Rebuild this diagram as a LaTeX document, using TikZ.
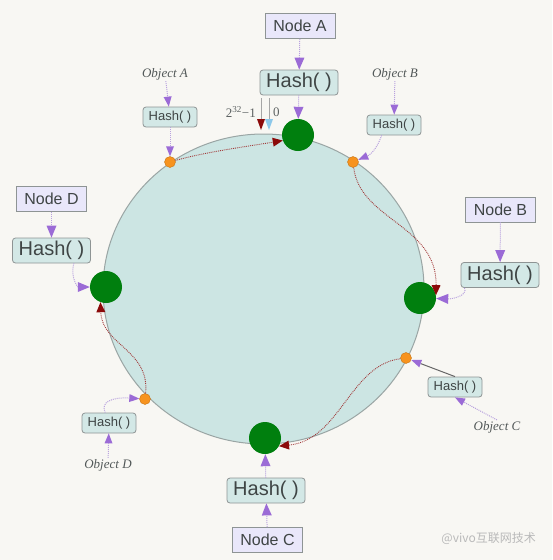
\documentclass[tikz,border=0pt]{standalone}
\usepackage{fontspec}
\setmainfont{Liberation Sans}
\newfontfamily\objfont{Liberation Serif}
\newfontfamily\cjkfont{Noto Sans CJK SC}
\usetikzlibrary{arrows.meta}
\definecolor{bgc}{HTML}{F8F7F3}
\definecolor{ringfill}{HTML}{CCE5E3}
\definecolor{ringdraw}{HTML}{9AA5A4}
\definecolor{nodefill}{HTML}{E9E7FA}
\definecolor{hashfill}{HTML}{D3E8E6}
\definecolor{boxdraw}{HTML}{8E9494}
\definecolor{txt}{HTML}{3F4545}
\definecolor{purp}{HTML}{9B6BD6}
\definecolor{purpline}{HTML}{B9A2DE}
\definecolor{dred}{HTML}{8B0A0A}
\definecolor{gnode}{HTML}{007F0E}
\definecolor{orng}{HTML}{F7931E}
\definecolor{lblue}{HTML}{8CC8EA}
\tikzset{
  nodebox/.style={draw=boxdraw, fill=nodefill, line width=0.8pt, text=txt, font=\fontsize{16}{18}\selectfont, minimum width=70pt, minimum height=25pt, inner sep=0pt},
  hashbig/.style={draw=boxdraw, fill=hashfill, line width=0.8pt, rounded corners=3pt, text=txt, font=\fontsize{20}{22}\selectfont, minimum width=78pt, minimum height=25pt, inner sep=0pt},
  hashsmall/.style={draw=boxdraw, fill=hashfill, line width=0.8pt, rounded corners=3pt, text=txt, font=\fontsize{13}{15}\selectfont, minimum width=54pt, minimum height=20pt, inner sep=0pt},
  objlabel/.style={text=txt!90, font=\objfont\itshape\fontsize{13}{15}\selectfont, inner sep=1pt},
  gpoint/.style={circle, fill=gnode, minimum size=32pt, inner sep=0pt},
  opoint/.style={circle, fill=orng, draw=orng!80!black, line width=0.4pt, minimum size=11pt, inner sep=0pt},
  purparrow/.style={draw=purpline, line width=1pt, densely dotted, -{Triangle[length=12pt, width=10pt, fill=purp, color=purp, line width=0pt]}},
  purpsmall/.style={draw=purpline, line width=1pt, densely dotted, -{Triangle[length=10pt, width=8pt, fill=purp, color=purp, line width=0pt]}},
  purpsolid/.style={draw=gray!80!black, line width=1pt, -{Triangle[length=10pt, width=8pt, fill=purp, color=purp, line width=0pt]}},
  redarrow/.style={draw=dred!80, line width=0.9pt, densely dotted, -{Triangle[length=10pt, width=9pt, fill=dred, color=dred, line width=0pt]}},
  markline/.style={draw=gray!70, line width=0.7pt},
}
\begin{document}
\begin{tikzpicture}[x=1pt, y=-1pt]
\useasboundingbox (0,0) rectangle (552,560);
\fill[bgc] (0,0) rectangle (552,560);

% ring
\draw[fill=ringfill, draw=ringdraw, line width=1pt] (263.5,289) ellipse [x radius=160.5, y radius=155];

% position markers 2^32-1 and 0
\coordinate (m1s) at (261,98);
\coordinate (m1e) at (261,130);
\coordinate (m0s) at (269,98);
\coordinate (m0e) at (269,130);
\draw[markline, -{Triangle[length=11pt, width=8pt, fill=dred, color=dred, line width=0pt]}] (m1s) -- (m1e);
\draw[markline, -{Triangle[length=11pt, width=8pt, fill=lblue, color=lblue, line width=0pt]}] (m0s) -- (m0e);
\node[anchor=east, text=txt!85, font=\objfont\fontsize{13}{15}\selectfont, inner sep=0pt] (lbl32) at (256,112) {2\textsuperscript{32}−1};
\node[anchor=west, text=txt!85, font=\objfont\fontsize{13}{15}\selectfont, inner sep=0pt] (lbl0) at (273,112) {0};

% ring points
\node[gpoint] (GA) at (298,135) {};
\node[gpoint] (GB) at (420,298) {};
\node[gpoint] (GC) at (265,438) {};
\node[gpoint] (GD) at (106,287) {};
\node[opoint] (OA) at (170,162) {};
\node[opoint] (OB) at (353,162) {};
\node[opoint] (OC) at (406,358) {};
\node[opoint] (OD) at (145,399) {};

% server nodes and hash boxes
\node[nodebox] (NA) at (300,26) {Node A};
\node[hashbig] (HA) at (299,82.5) {Hash( )};
\node[nodebox] (NB) at (500.5,209.5) {Node B};
\node[hashbig] (HB) at (500,275) {Hash( )};
\node[nodebox] (NC) at (267.5,540) {Node C};
\node[hashbig] (HC) at (266,490.5) {Hash( )};
\node[nodebox] (ND) at (51.5,199) {Node D};
\node[hashbig] (HD) at (51.5,250.5) {Hash( )};

% objects
\node[objlabel] (ObjA) at (165,74) {Object A};
\node[hashsmall] (hA) at (170,117) {Hash( )};
\node[objlabel] (ObjB) at (395,74) {Object B};
\node[hashsmall] (hB) at (394,125) {Hash( )};
\node[hashsmall] (hC) at (455,387) {Hash( )};
\node[objlabel] (ObjC) at (497,427) {Object C};
\node[hashsmall] (hD) at (109,423) {Hash( )};
\node[objlabel] (ObjD) at (108,465) {Object D};

% node -> hash -> ring
\draw[purparrow] (NA) -- (HA);
\draw[purparrow] (HA) -- (GA);
\draw[purparrow] (NB) -- (HB);
\draw[purparrow] (HB.200) .. controls (468,296) and (452,299) .. (GB);
\draw[purparrow] (NC) -- (HC);
\draw[purparrow] (HC) -- (GC);
\draw[purparrow] (ND) -- (HD);
\draw[purparrow] (HD.-30) .. controls (70,278) and (78,287) .. (GD);

% object -> hash -> ring
\draw[purpsmall] (ObjA) -- (hA);
\draw[purpsmall] (hA) -- (OA);
\draw[purpsmall] (ObjB) -- (hB);
\draw[purpsmall] (hB.220) .. controls (378,146) and (372,154) .. (OB);
\draw[purpsmall] (ObjC.north) -- (hC.south);
\draw[purpsolid] (hC.north) -- (OC);
\draw[purpsmall] (ObjD) -- (hD);
\draw[purpsmall] (hD.110) .. controls (100,402) and (112,397) .. (OD);

% clockwise assignment
\draw[redarrow] (OA) .. controls (205,152) and (250,146) .. (GA.200);
\draw[redarrow] (OB) .. controls (360,220) and (437,225) .. (GB.10);
\draw[redarrow] (OC) .. controls (350,365) and (340,440) .. (GC.-30);
\draw[redarrow] (OD) .. controls (150,350) and (102,345) .. (GD.250);

% watermark
\node[anchor=east, text=gray!55, font=\cjkfont\fontsize{12}{14}\selectfont, inner sep=0pt] (wm) at (536,538) {@vivo互联网技术};
\end{tikzpicture}
\end{document}
